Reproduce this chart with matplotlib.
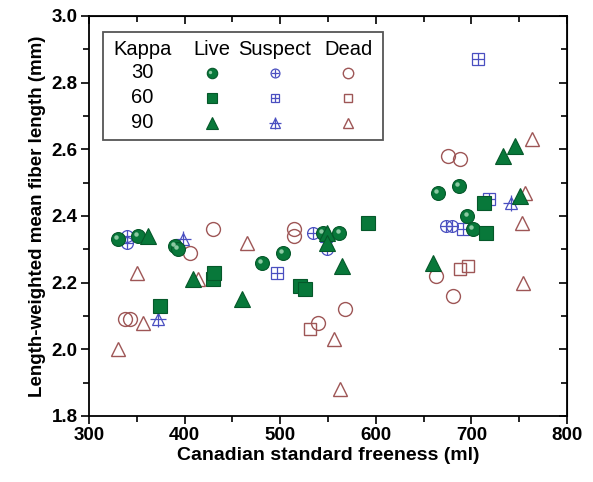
import numpy as np
import matplotlib
matplotlib.use("Agg")
import matplotlib.pyplot as plt
from matplotlib.patches import Rectangle
from matplotlib.ticker import MultipleLocator
from matplotlib.transforms import offset_copy

plt.rcParams['font.family'] = ['Liberation Sans', 'DejaVu Sans']

# data: (freeness ml, fiber length mm)
live30 = [(330, 2.33), (351, 2.34), (390, 2.31), (393, 2.30), (481, 2.26), (503, 2.29),
          (545, 2.35), (562, 2.35), (665, 2.47), (687, 2.49), (696, 2.40), (702, 2.36)]
live60 = [(374, 2.13), (430, 2.21), (431, 2.23), (521, 2.19), (526, 2.18), (592, 2.38),
          (713, 2.44), (715, 2.35)]
live90 = [(362, 2.34), (409, 2.21), (460, 2.15), (549, 2.35), (549, 2.32), (565, 2.25),
          (660, 2.26), (733, 2.58), (746, 2.61), (751, 2.46)]

susp30 = [(340, 2.34), (340, 2.32), (534, 2.35), (549, 2.30), (673, 2.37), (680, 2.37)]
susp60 = [(497, 2.23), (691, 2.36), (707, 2.87), (719, 2.45)]
susp90 = [(372, 2.09), (398, 2.33), (548, 2.34), (742, 2.44)]

dead30 = [(338, 2.09), (343, 2.09), (406, 2.29), (430, 2.36), (514, 2.36), (514, 2.34),
          (540, 2.08), (568, 2.12), (663, 2.22), (676, 2.58), (681, 2.16), (688, 2.57)]
dead60 = [(531, 2.06), (688, 2.24), (697, 2.25)]
dead90 = [(330, 2.00), (350, 2.23), (357, 2.08), (414, 2.21), (465, 2.32), (556, 2.03),
          (563, 1.88), (753, 2.38), (754, 2.20), (756, 2.47), (764, 2.63)]

kappas = ['30', '60', '90']
columns = ['Live', 'Suspect', 'Dead']

GREEN = '#08783a'
BLUE = '#4a4fc0'
BROWN = '#9e5656'


def draw(ax, pts, kind, shape, transform=None, size=1.0):
    pts = np.array(pts)
    x, y = pts[:, 0], pts[:, 1]
    tr = ax.transData if transform is None else transform
    if kind == 'live':
        ms = {'o': 10, 's': 9.5, '^': 11}[shape] * size
        ax.plot(x, y, shape, ms=ms, mfc=GREEN, mec='#05582a', mew=0.8, ls='none', transform=tr)
        if shape == 'o':
            # little shine spot like the shaded balls
            hl = offset_copy(tr, fig=ax.figure, x=-1.3 * size, y=1.3 * size, units='points')
            ax.plot(x, y, 'o', ms=3.2 * size, mfc='#9ad3ae', mec='none', ls='none',
                    alpha=0.9, transform=hl)
    elif kind == 'susp':
        ms = {'o': 8.5, 's': 8, '^': 9}[shape] * size
        ax.plot(x, y, shape, ms=ms, mfc='none', mec=BLUE, mew=0.9, ls='none', transform=tr)
        ax.plot(x, y, '+', ms=ms * (1.25 if shape == '^' else 1.0), mec=BLUE, mew=0.9,
                ls='none', transform=tr)
    else:
        ms = {'o': 10, 's': 8.5, '^': 10.5}[shape] * size
        ax.plot(x, y, shape, ms=ms, mfc='none', mec=BROWN, mew=1.0, ls='none', transform=tr)


fig = plt.figure(figsize=(5.93, 4.82), dpi=100)
ax = fig.add_axes([0.150, 0.137, 0.806, 0.830])

draw(ax, dead30, 'dead', 'o')
draw(ax, dead60, 'dead', 's')
draw(ax, dead90, 'dead', '^')
draw(ax, susp30, 'susp', 'o')
draw(ax, susp60, 'susp', 's')
draw(ax, susp90, 'susp', '^')
draw(ax, live30, 'live', 'o')
draw(ax, live60, 'live', 's')
draw(ax, live90, 'live', '^')

ax.set_xlim(300, 800)
ax.set_ylim(1.8, 3.0)
ax.xaxis.set_major_locator(MultipleLocator(100))
ax.xaxis.set_minor_locator(MultipleLocator(50))
ax.yaxis.set_major_locator(MultipleLocator(0.2))
ax.yaxis.set_minor_locator(MultipleLocator(0.1))
ax.yaxis.set_major_formatter(plt.FormatStrFormatter('%.1f'))
ax.tick_params(which='both', direction='out', width=1.2, labelsize=13.5, pad=2)
ax.tick_params(which='major', length=6)
ax.tick_params(which='minor', length=4)
for lab in ax.get_xticklabels() + ax.get_yticklabels():
    lab.set_fontweight('bold')
for sp in ax.spines.values():
    sp.set_linewidth(1.3)

top = ax.secondary_xaxis('top')
top.xaxis.set_major_locator(MultipleLocator(100))
top.xaxis.set_minor_locator(MultipleLocator(50))
top.tick_params(which='both', direction='in', labeltop=False, width=1.2)
top.tick_params(which='major', length=6)
top.tick_params(which='minor', length=4)
right = ax.secondary_yaxis('right')
right.yaxis.set_major_locator(MultipleLocator(0.2))
right.yaxis.set_minor_locator(MultipleLocator(0.1))
right.tick_params(which='both', direction='in', labelright=False, width=1.2)
right.tick_params(which='major', length=6)
right.tick_params(which='minor', length=4)

ax.set_xlabel('Canadian standard freeness (ml)', fontsize=14, fontweight='bold', labelpad=2)
ax.set_ylabel('Length-weighted mean fiber length (mm)', fontsize=13.5, fontweight='bold',
              labelpad=4)

# hand-made legend table
ax.add_patch(Rectangle((0.029, 0.69), 0.586, 0.27, transform=ax.transAxes,
                       fill=False, ec='#555555', lw=1.3, zorder=5))
col_x = [0.257, 0.389, 0.542]
row_y = [0.8575, 0.795, 0.7325]
ax.text(0.113, 0.915, 'Kappa', transform=ax.transAxes, ha='center', va='center', fontsize=14.5)
for cx, name in zip(col_x, columns):
    ax.text(cx, 0.915, name, transform=ax.transAxes, ha='center', va='center', fontsize=14.5)
for ry, k in zip(row_y, kappas):
    ax.text(0.111, ry, k, transform=ax.transAxes, ha='center', va='center', fontsize=14.5)
for ry, shape in zip(row_y, ['o', 's', '^']):
    draw(ax, [(col_x[0], ry)], 'live', shape, transform=ax.transAxes, size=0.75)
    draw(ax, [(col_x[1], ry)], 'susp', shape, transform=ax.transAxes, size=0.75)
    draw(ax, [(col_x[2], ry)], 'dead', shape, transform=ax.transAxes, size=0.75)

fig.savefig('out.png', dpi=100)
